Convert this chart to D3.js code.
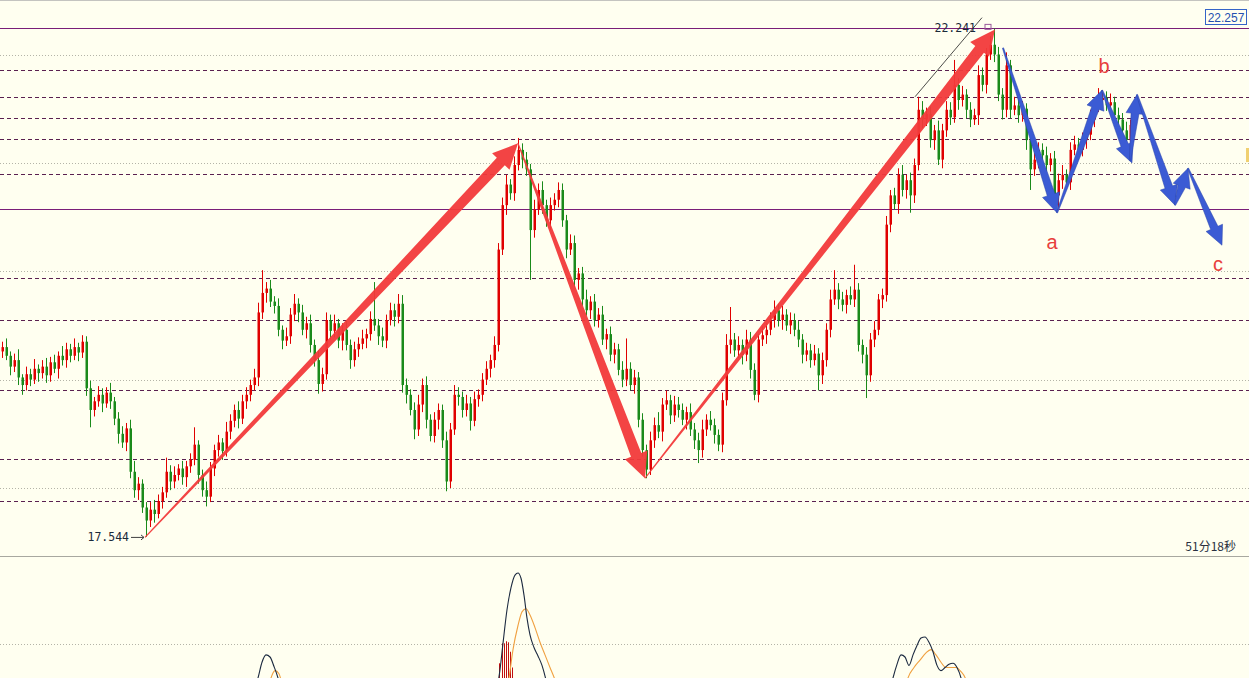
<!DOCTYPE html>
<html><head><meta charset="utf-8">
<script src="https://cdn.jsdelivr.net/npm/d3@7"></script>
<style>html,body{margin:0;padding:0;background:#fffff0;}svg{display:block;}</style>
</head><body>
<svg id="c" width="1249" height="678"></svg>
<script>
// ---------- DATA ----------
const open0 = 19.26;
const closes = [
19.30,19.22,19.12,19.18,19.02,18.95,19.05,19.00,19.10,19.06,19.12,19.04,19.16,19.10,19.22,19.18,19.28,19.22,19.30,19.25,
19.35,18.92,18.72,18.80,18.86,18.78,18.88,18.80,18.64,18.50,18.42,18.55,18.15,17.98,18.04,17.82,17.70,17.80,17.76,17.88,
17.96,18.15,18.06,18.12,18.18,18.10,18.20,18.26,18.40,18.12,17.98,17.92,18.18,18.35,18.42,18.34,18.52,18.62,18.72,18.64,
18.80,18.86,18.95,19.02,19.62,19.80,19.84,19.72,19.68,19.46,19.36,19.40,19.60,19.70,19.62,19.46,19.52,19.32,19.18,18.96,
19.05,19.55,19.45,19.52,19.36,19.46,19.32,19.18,19.28,19.33,19.38,19.42,19.56,19.50,19.40,19.36,19.55,19.64,19.58,19.70,
18.95,18.86,18.72,18.54,18.77,18.95,18.63,18.48,18.63,18.72,18.44,18.06,18.54,18.86,18.84,18.72,18.78,18.62,18.82,18.86,
19.00,19.10,19.18,19.32,20.20,20.61,20.80,20.72,20.98,21.12,21.03,20.94,20.38,20.57,20.75,20.61,20.47,20.61,20.66,20.75,
20.47,20.20,20.26,19.92,19.98,19.74,19.64,19.72,19.55,19.60,19.37,19.42,19.23,19.28,19.09,19.00,19.10,18.95,19.02,18.63,
18.35,18.17,18.44,18.58,18.52,18.77,18.81,18.67,18.77,18.72,18.63,18.70,18.54,18.44,18.35,18.54,18.63,18.58,18.49,18.40,
18.81,19.32,19.37,19.27,19.32,19.23,19.37,19.09,18.86,19.37,19.41,19.46,19.55,19.64,19.55,19.60,19.50,19.55,19.46,19.37,
19.23,19.27,19.18,19.24,19.04,19.18,19.46,19.74,19.83,19.74,19.69,19.78,19.74,19.83,19.32,19.23,19.04,19.37,19.46,19.74,
19.78,20.43,20.70,20.62,20.89,20.75,20.84,20.70,20.98,21.49,21.40,21.45,21.21,21.30,21.03,21.30,21.49,21.42,21.72,21.58,
21.63,21.49,21.40,21.44,21.81,21.72,22.00,22.09,22.00,21.63,21.49,21.90,21.49,21.53,21.44,21.50,21.21,20.94,21.03,21.12,
21.07,20.98,21.04,20.70,20.84,20.89,20.82,21.12,21.17,21.12,21.21,21.26,21.40,21.53,21.58,21.60,21.53,21.56,21.44,21.40,
21.30,21.21,21.35,21.41
];
// wick lengths in hundredths
const upWick = [
5,8,4,6,10,3,7,5,9,4,6,8,5,7,4,9,6,5,8,4,
6,5,7,4,8,6,5,9,4,6,7,5,8,10,6,4,5,7,9,6,
5,13,6,8,4,7,5,6,16,4,5,8,6,5,7,4,9,6,5,8,
6,7,5,8,9,21,6,8,5,7,4,8,6,9,5,7,6,8,5,9,
6,7,5,8,4,6,9,5,7,6,8,5,7,34,6,8,5,7,6,9,
8,6,5,7,9,6,8,5,7,6,5,8,6,9,7,5,8,6,7,5,
6,7,5,8,6,7,9,5,8,11,6,7,5,9,6,8,5,7,6,7,
6,5,8,7,5,6,9,5,7,6,8,5,7,6,5,8,28,6,7,5,
6,5,8,7,12,6,9,5,8,7,6,5,8,6,7,9,5,8,6,5,
7,10,30,6,8,5,9,7,6,5,8,6,7,9,6,8,5,7,6,8,
5,7,6,8,5,7,6,9,18,6,7,5,8,23,6,5,7,6,8,5,
6,8,5,7,6,9,5,7,6,12,8,6,7,5,9,6,8,7,23,6,
8,5,7,6,9,7,6,8,15,7,6,12,5,8,6,7,5,9,6,7,
6,8,5,7,6,9,5,7,8,6,7,5,9,6,11,7,6,8,5,7,
6,8,5,7
];
const dnWick = [
6,4,8,5,7,9,5,6,4,8,5,7,6,4,9,5,7,6,4,8,
5,7,16,6,5,8,4,7,6,9,5,8,6,7,9,5,15,6,8,4,
7,5,8,6,5,7,9,6,5,8,6,9,5,7,6,8,5,7,6,9,
5,7,6,5,8,6,9,5,7,6,8,5,7,6,9,5,8,7,6,9,
7,5,8,6,7,9,5,8,6,7,5,9,6,5,8,6,7,5,9,6,
7,8,5,9,6,7,8,5,6,9,7,9,6,5,8,7,6,9,5,7,
6,5,8,7,6,5,9,6,7,5,8,6,46,7,5,8,6,9,5,7,
6,8,5,7,9,6,5,8,6,7,5,9,6,8,5,7,6,5,8,7,
6,8,5,7,6,9,5,8,6,7,5,9,6,8,12,7,6,5,8,6,
7,5,8,6,7,9,6,8,5,7,6,8,5,7,6,9,5,8,6,7,
8,6,7,5,14,8,6,7,5,9,6,8,5,7,6,8,21,6,7,5,
8,6,7,5,9,6,8,16,7,5,8,6,7,9,5,8,6,7,5,9,
6,8,7,5,9,6,8,5,7,6,9,7,8,5,7,6,9,19,6,8,
5,7,6,9,13,8,6,7,5,9,6,8,5,7,6,8,5,9,6,7,
8,9,6,7
];
const gridLevels = [22, 21, 20, 19, 18];
const solidLevels = [22.241, 20.575];
const dashedLevels = [21.857, 21.608, 21.414, 21.221, 20.898, 19.938, 19.551, 18.905, 18.269, 17.881];
// arrows: [startIndex, startPrice, endIndex, endPrice]
const redArrows = [
  [35.75, 17.544, 129, 21.18],
  [129, 21.18, 160.75, 18.09],
  [160.75, 18.09, 248.25, 22.23]
];
const blueArrows = [
  [250.25, 22.06, 263.75, 20.54],
  [263.75, 20.54, 275, 21.67],
  [275, 21.67, 282.5, 21.00],
  [282.0, 21.02, 283.75, 21.63],
  [283.75, 21.63, 293.25, 20.61],
  [293.25, 20.61, 296.5, 20.95],
  [296.5, 20.95, 305, 20.24]
];
const trendLine = [228.25, 21.61, 245, 22.34];
const waveLabels = [
  {t: "b", i: 275.5, p: 21.89},
  {t: "a", i: 262.5, p: 20.27},
  {t: "c", i: 304, p: 20.07}
];
const highLabel = {t: "22.241", i: 246.5, p: 22.241};
const lowLabel = {t: "17.544", i: 35.75, p: 17.544};
const lastPrice = "22.257";
const timerText = "51分18秒";
// indicator sub-panel
const indDark = [
 [[62,-21],[64,0],[65,15],[66,22],[67,20],[68,11],[69,0],[70,-16]],
 [[123.25,-21],[124.5,8],[125.25,33],[126.25,65],[127.25,86],[128.25,98],[129,100],[129.75,95],[130.5,79],[131.25,57],[132,41],[133,29],[134,21],[135,12],[136,-2],[137,-21]],
 [[221.5,-21],[222.75,0],[223.75,13],[224.75,22],[225.75,20],[226.75,12],[227.75,22],[228.75,31],[229.75,38],[230.75,39],[231.75,34],[232.75,25],[233.75,12],[234.75,7],[235.75,10],[236.75,13],[237.75,14],[238.75,10],[239.75,0],[240.75,-21]]
];
const indOrange = [
 [[66,-21],[67.25,0],[68.25,7],[69.25,4],[70.25,-11]],
 [[125.75,-21],[126.75,0],[127.75,27],[129,50],[130,63],[131,66],[132,60],[133.25,48],[134.5,34],[135.75,22],[137,10],[138.25,-2],[139.5,-21]],
 [[225.25,-21],[226.5,0],[228,10],[229.5,17],[231,24],[232.25,27],[233.5,22],[234.75,15],[236,10],[237.25,10],[238.5,10],[239.75,6],[241,-2],[242,-21]]
];
const histIdx = [124.25, 125, 125.5, 126, 126.5, 127, 127.5];
const histVal = [14, 33, 33, 35, 34, 25, 10];
const indLevel = 32;

// ---------- DRAW ----------
const W = 1249, H = 678, mainBottom = 556;
const svg = d3.select("#c");
const x = d3.scaleLinear().domain([0, 283]).range([2, 1134]);
const y = d3.scaleLinear().domain([18, 22]).range([488, 54.5]);
const sy = d3.scaleLinear().domain([0, 100]).range([678, 573]);

svg.append("rect").attr("width", W).attr("height", H).attr("fill", "#fffff0");
const defs = svg.append("defs");
defs.append("clipPath").attr("id", "mainClip").append("rect").attr("x", 0).attr("y", 1).attr("width", W).attr("height", mainBottom - 1);
defs.append("clipPath").attr("id", "subClip").append("rect").attr("x", 0).attr("y", mainBottom + 1).attr("width", W).attr("height", H - mainBottom - 1);

const main = svg.append("g").attr("clip-path", "url(#mainClip)");

// grid (dotted)
main.selectAll("line.grid").data(gridLevels).join("line")
  .attr("x1", 0).attr("x2", W).attr("y1", d => Math.round(y(d)) + 0.5).attr("y2", d => Math.round(y(d)) + 0.5)
  .attr("stroke", "#b4b4a8").attr("stroke-width", 1).attr("stroke-dasharray", "1,2");
// dashed levels
main.selectAll("line.dash").data(dashedLevels).join("line")
  .attr("x1", 0).attr("x2", W).attr("y1", d => Math.round(y(d)) + 0.5).attr("y2", d => Math.round(y(d)) + 0.5)
  .attr("stroke", "#5a2050").attr("stroke-width", 1).attr("stroke-dasharray", "4,3");
// solid levels
main.selectAll("line.solid").data(solidLevels).join("line")
  .attr("x1", 0).attr("x2", W).attr("y1", d => Math.round(y(d)) + 0.5).attr("y2", d => Math.round(y(d)) + 0.5)
  .attr("stroke", "#7a1e78").attr("stroke-width", 1.2);

// candles
const candles = closes.map((c, i) => {
  const o = i === 0 ? open0 : closes[i - 1];
  return {i, o, c, h: Math.max(o, c) + upWick[i] / 100, l: Math.min(o, c) - dnWick[i] / 100};
});
const cg = main.append("g");
cg.selectAll("line.wick").data(candles).join("line")
  .attr("x1", d => Math.round(x(d.i)) + 0.5).attr("x2", d => Math.round(x(d.i)) + 0.5)
  .attr("y1", d => y(d.h)).attr("y2", d => y(d.l))
  .attr("stroke", d => d.c >= d.o ? "#e00000" : "#1a8a1a").attr("stroke-width", 1);
cg.selectAll("rect.body").data(candles).join("rect")
  .attr("x", d => Math.round(x(d.i)) - 0.5).attr("width", 2.5)
  .attr("y", d => y(Math.max(d.o, d.c)))
  .attr("height", d => Math.max(1, Math.abs(y(d.o) - y(d.c))))
  .attr("fill", d => d.c >= d.o ? "#e00000" : "#1a8a1a");

// trend line
main.append("line")
  .attr("x1", x(trendLine[0])).attr("y1", y(trendLine[1]))
  .attr("x2", x(trendLine[2])).attr("y2", y(trendLine[3]))
  .attr("stroke", "#202020").attr("stroke-width", 0.8);

function taper(s, e, w0, w1, hw, hl) {
  const dx = e[0] - s[0], dy = e[1] - s[1], L = Math.hypot(dx, dy);
  const ux = dx / L, uy = dy / L, nx = -uy, ny = ux;
  const bx = e[0] - ux * hl, by = e[1] - uy * hl;
  return [[s[0] + nx * w0, s[1] + ny * w0], [bx + nx * w1, by + ny * w1], [bx + nx * hw, by + ny * hw], e,
          [bx - nx * hw, by - ny * hw], [bx - nx * w1, by - ny * w1], [s[0] - nx * w0, s[1] - ny * w0]];
}
const line = d3.line();
main.selectAll("path.red").data(redArrows).join("path")
  .attr("d", d => line(taper([x(d[0]), y(d[1])], [x(d[2]), y(d[3])], 0.6, 5.5, 12, 25)) + "Z")
  .attr("fill", "#f23a3a").attr("fill-opacity", 0.95);
main.selectAll("path.blue").data(blueArrows).join("path")
  .attr("d", d => line(taper([x(d[0]), y(d[1])], [x(d[2]), y(d[3])], 0.6, 4, 9, 19)) + "Z")
  .attr("fill", "#3b5bd4").attr("stroke", "#2a44a8").attr("stroke-width", 0.5);

// markers
main.append("rect").attr("x", x(highLabel.i) - 3).attr("y", y(highLabel.p) - 4).attr("width", 6).attr("height", 5)
  .attr("fill", "none").attr("stroke", "#9a5a9a").attr("stroke-width", 1);
main.append("text").attr("x", x(highLabel.i) - 12).attr("y", y(highLabel.p) + 4)
  .attr("text-anchor", "end").attr("font-family", "DejaVu Sans Mono").attr("font-size", 11.5)
  .attr("fill", "#1a2a3a").text(highLabel.t);
main.append("text").attr("x", x(lowLabel.i) - 16).attr("y", y(lowLabel.p) + 4)
  .attr("text-anchor", "end").attr("font-family", "DejaVu Sans Mono").attr("font-size", 11.5)
  .attr("fill", "#1a2a3a").text(lowLabel.t);
main.append("line").attr("x1", x(lowLabel.i) - 14).attr("x2", x(lowLabel.i) - 1)
  .attr("y1", y(lowLabel.p)).attr("y2", y(lowLabel.p)).attr("stroke", "#404040").attr("stroke-width", 1);
main.append("path").attr("d", d3.line()([[x(lowLabel.i) - 4, y(lowLabel.p) - 2.5], [x(lowLabel.i) - 1, y(lowLabel.p)], [x(lowLabel.i) - 4, y(lowLabel.p) + 2.5]]))
  .attr("fill", "none").attr("stroke", "#404040").attr("stroke-width", 1);

// wave labels
main.selectAll("text.wave").data(waveLabels).join("text")
  .attr("x", d => x(d.i)).attr("y", d => y(d.p) + 7).attr("text-anchor", "middle")
  .attr("font-family", "Liberation Sans, Arial, sans-serif").attr("font-size", 20)
  .attr("fill", "#e8403c").text(d => d.t);

// last price box
svg.append("rect").attr("x", 1205.5).attr("y", 9.5).attr("width", 41).attr("height", 15)
  .attr("fill", "#fffff0").attr("stroke", "#3464c8").attr("stroke-width", 1);
svg.append("text").attr("x", 1226).attr("y", 21.5).attr("text-anchor", "middle")
  .attr("font-family", "Liberation Sans, Arial, sans-serif").attr("font-size", 12)
  .attr("fill", "#2450b0").text(lastPrice);
svg.append("rect").attr("x", 1246).attr("y", 148).attr("width", 3).attr("height", 14).attr("fill", "#f0d070");

// timer
svg.append("text").attr("x", 1236).attr("y", 551).attr("text-anchor", "end")
  .attr("font-family", "Noto Sans CJK SC").attr("font-size", 12)
  .attr("fill", "#2a3040").text(timerText);

// borders
svg.append("line").attr("x1", 0).attr("x2", W).attr("y1", 0.5).attr("y2", 0.5).attr("stroke", "#c4c4c0");
svg.append("line").attr("x1", 0).attr("x2", W).attr("y1", mainBottom + 0.5).attr("y2", mainBottom + 0.5).attr("stroke", "#a8a8a0");

// sub panel
const sub = svg.append("g").attr("clip-path", "url(#subClip)");
sub.append("line").attr("x1", 0).attr("x2", W).attr("y1", Math.round(sy(indLevel)) + 0.5).attr("y2", Math.round(sy(indLevel)) + 0.5)
  .attr("stroke", "#b4b4a8").attr("stroke-dasharray", "1,2");
sub.selectAll("line.hist").data(histIdx).join("line")
  .attr("x1", d => Math.round(x(d)) + 0.5).attr("x2", d => Math.round(x(d)) + 0.5)
  .attr("y1", sy(-5)).attr("y2", (d, k) => sy(histVal[k]))
  .attr("stroke", "#c01010").attr("stroke-width", 1);
const sl = d3.line().x(d => x(d[0])).y(d => sy(d[1])).curve(d3.curveMonotoneX);
sub.selectAll("path.orange").data(indOrange).join("path")
  .attr("d", sl).attr("fill", "none").attr("stroke", "#f0a040").attr("stroke-width", 1.1);
sub.selectAll("path.dark").data(indDark).join("path")
  .attr("d", sl).attr("fill", "none").attr("stroke", "#1c2a40").attr("stroke-width", 1.1);
</script>
</body></html>
